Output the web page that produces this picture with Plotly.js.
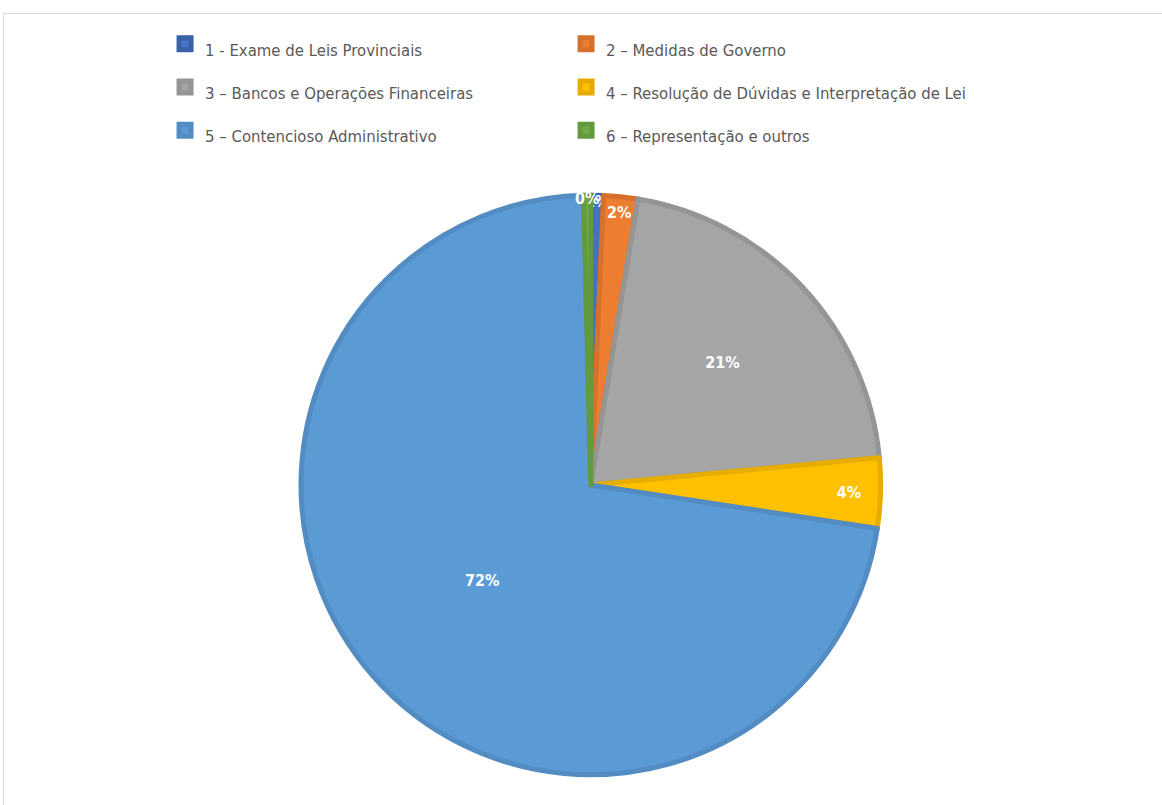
<!DOCTYPE html>
<html>
<head>
<meta charset="utf-8">
<script src="https://cdn.plot.ly/plotly-3.0.1.min.js"></script>
<style>
  html, body { margin: 0; padding: 0; background: #fff; overflow: hidden; }
  #frame {
    position: absolute; left: 3px; top: 13px;
    width: 1170px; height: 800px;
    border-left: 1px solid #d9d9d9; border-top: 1px solid #d9d9d9;
  }
  #chart { width: 1162px; height: 805px; }
</style>
</head>
<body>
<div id="frame"><div id="chart"></div></div>
<script>
const categories = [
    '1 - Exame de Leis Provinciais',
    '2 – Medidas de Governo',
    '3 – Bancos e Operações Financeiras',
    '4 – Resolução de Dúvidas e Interpretação de Lei',
    '5 – Contencioso Administrativo',
    '6 – Representação e outros',
];
const shares = [0.7, 1.9, 20.9, 3.9, 72.2, 0.4];
const sliceColors = ['#4472C4', '#ED7D31', '#A5A5A5', '#FFC000', '#5B9BD5', '#70AD47'];
const rimColors = ['#3A62A8', '#D6712B', '#959595', '#E6AD00', '#528CC2', '#63993F'];

const FONT = '"Liberation Sans Narrow", "DejaVu Sans Condensed", "Open Sans", sans-serif';

// taller legend rows: big legend font sets the row height, span keeps the text small
const legendLabels = categories.map(c => `<span style="font-size:16.6px">${c}</span>`);

const trace = {
    type: 'pie',
    labels: legendLabels,
    values: shares,
    sort: false,
    direction: 'clockwise',
    rotation: 0,
    marker: {
        colors: sliceColors,
        line: { color: rimColors, width: 5 },
    },
    texttemplate: '%{percent:.0%}',
    textposition: 'inside',
    insidetextorientation: 'horizontal',
    textfont: { family: FONT, size: 16, color: '#ffffff', weight: 'bold' },
    hoverinfo: 'label+percent',
    domain: { x: [0.2, 0.81], y: [0.055, 0.775] },
};

const layout = {
    width: 1162,
    height: 805,
    margin: { l: 0, r: 0, t: 0, b: 0 },
    paper_bgcolor: '#ffffff',
    showlegend: true,
    uniformtext: { minsize: 15, mode: 'show' },
    legend: {
        orientation: 'h',
        x: 0.1386,
        xanchor: 'left',
        y: 0.9963,
        yanchor: 'top',
        entrywidth: 356,
        entrywidthmode: 'pixels',
        font: { family: FONT, size: 31, color: '#595959' },
        bgcolor: 'rgba(0,0,0,0)',
    },
};

Plotly.newPlot('chart', [trace], layout, { displayModeBar: false, staticPlot: true });
</script>
</body>
</html>
